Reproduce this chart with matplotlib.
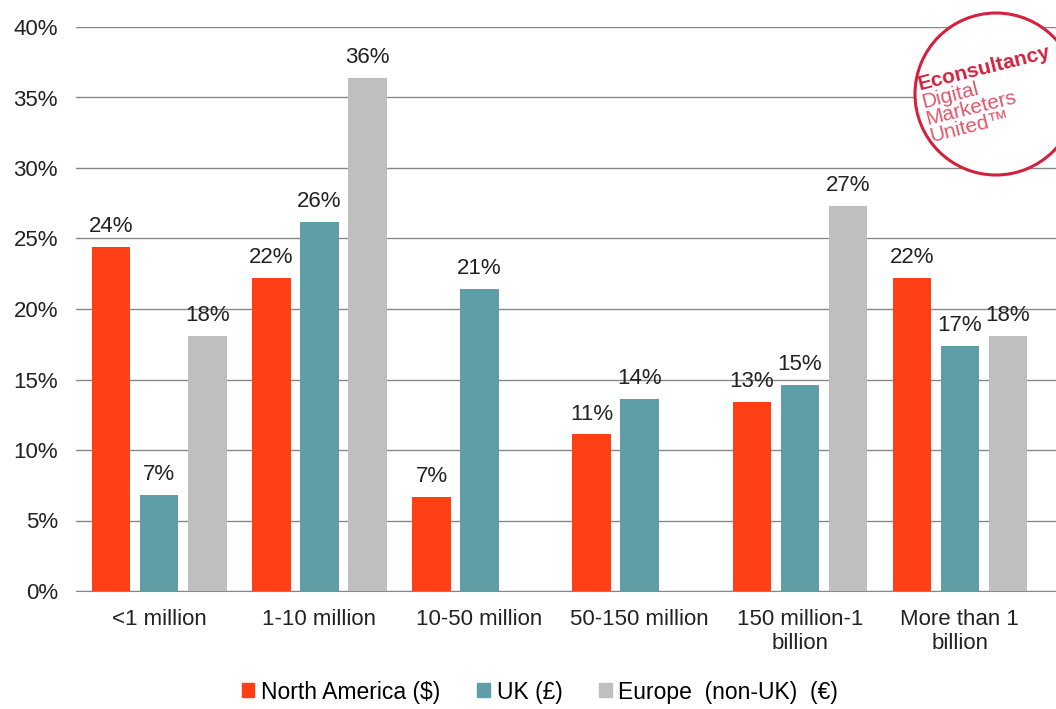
import numpy as np
import matplotlib.pyplot as plt
from matplotlib.patches import Ellipse, Patch

plt.rcParams['font.family'] = ['Liberation Sans', 'DejaVu Sans']

categories = ['<1 million', '1-10 million', '10-50 million', '50-150 million',
              '150 million-1\nbillion', 'More than 1\nbillion']
north_america = [24.4, 22.2, 6.7, 11.1, 13.4, 22.2]
uk = [6.8, 26.2, 21.4, 13.6, 14.6, 17.4]
europe = [18.1, 36.4, None, None, 27.3, 18.1]
series_names = ['North America ($)', 'UK (£)', 'Europe  (non-UK)  (€)']
colors = ['#FF4014', '#5F9EA6', '#BFBFBF']

fig = plt.figure(figsize=(10.56, 7.09), dpi=100)
ax = fig.add_axes([76 / 1056, 1 - 591 / 709, 1 - 76 / 1056, (591 - 27) / 709])

x = np.arange(len(categories))
width = 0.24
step = 0.30
for i, (vals, col) in enumerate(zip([north_america, uk, europe], colors)):
    for j, v in enumerate(vals):
        if v is None:
            continue
        xpos = x[j] + (i - 1) * step
        ax.bar(xpos, v, width, color=col, zorder=3)
        ax.text(xpos, v + 0.7, f'{round(v):.0f}%', ha='center', va='bottom',
                fontsize=16, color='#222222', zorder=4)

ax.set_ylim(0, 40)
ax.set_xlim(-0.52, 5.6)
ax.set_yticks(np.arange(0, 41, 5))
ax.set_yticklabels([f'{t}%' for t in range(0, 41, 5)], fontsize=16, color='#222222')
ax.set_xticks(x)
ax.set_xticklabels(categories, fontsize=16, color='#222222', linespacing=1.2)
ax.tick_params(axis='both', length=0)
ax.tick_params(axis='x', pad=13)
ax.tick_params(axis='y', pad=13)
ax.grid(axis='y', color='#888888', linewidth=1, zorder=0)
for s in ['top', 'right', 'left']:
    ax.spines[s].set_visible(False)
ax.spines['bottom'].set_color('#888888')

handles = [Patch(color=c) for c in colors]
fig.legend(handles, series_names, loc='center', bbox_to_anchor=(540 / 1056, 1 - 692 / 709),
           ncol=3, frameon=False, fontsize=16.5, handlelength=0.55, handleheight=0.55,
           handletextpad=0.3, columnspacing=1.6)

# logo
fig.add_artist(Ellipse((996 / 1056, 1 - 94 / 709), 162 / 1056, 162 / 709,
                       transform=fig.transFigure, fill=True, facecolor='white',
                       edgecolor='#D4213D', linewidth=2.2, zorder=5))
fig.text(920 / 1056, 1 - 90 / 709, 'Econsultancy', fontsize=15, fontweight='bold',
         color='#D4213D', rotation=14, rotation_mode='anchor', ha='left', va='baseline', zorder=6)
for k, line in enumerate(['Digital', 'Marketers', 'United\u2122']):
    fig.text((923 + k * 4) / 1056, 1 - (108 + k * 17) / 709, line, fontsize=15,
             color='#E0576B', rotation=14, rotation_mode='anchor', ha='left',
             va='baseline', zorder=6)

fig.savefig('out.png', dpi=100)
